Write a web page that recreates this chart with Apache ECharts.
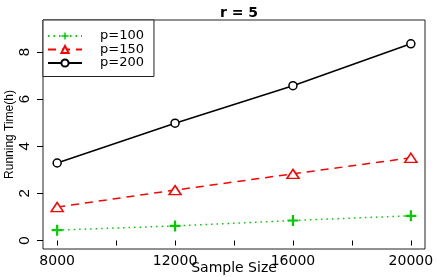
<!DOCTYPE html>
<html><head><meta charset="utf-8">
<script src="https://cdn.jsdelivr.net/npm/echarts@6/dist/echarts.min.js"></script>
<style>html,body{margin:0;padding:0;background:#fff}#c{width:436px;height:277px}</style>
</head><body><div id="c"></div>
<script>
const sampleSizes = [8000, 12000, 16000, 20000];
const p100 = [0.44, 0.62, 0.85, 1.05];
const p150 = [1.42, 2.14, 2.83, 3.51];
const p200 = [3.29, 4.98, 6.57, 8.35];
const xTicks = [8000, 10000, 12000, 14000, 16000, 18000, 20000];
const xLabels = [8000, 12000, 16000, 20000];
const yTicks = [0, 2, 4, 6, 8];
const seriesNames = ['p=100', 'p=150', 'p=200'];

const plus = 'path://M4,0 L6,0 L6,4 L10,4 L10,6 L6,6 L6,10 L4,10 L4,6 L0,6 L0,4 L4,4 Z';
const pair = v => sampleSizes.map((x, i) => [x, v[i]]);

const chart = echarts.init(document.getElementById('c'));
chart.setOption({
  animation: false,
  title: { text: 'r = 5', left: 234, textAlign: 'center', top: 1,
    textStyle: { fontFamily: 'DejaVu Sans', fontWeight: 'bold', fontSize: 14, color: '#000' } },
  grid: { left: 43, top: 20, right: 11, bottom: 28, show: true, borderColor: '#222', borderWidth: 1,
    outerBoundsMode: 'none', containLabel: false },
  legend: {
    orient: 'vertical', left: 43, top: 20, itemWidth: 34, itemHeight: 9, itemGap: 0.5,
    padding: [9.5, 10, 7, 4], borderColor: '#222', borderWidth: 1, backgroundColor: '#fff',
    textStyle: { fontFamily: 'DejaVu Sans', fontSize: 13, lineHeight: 13, color: '#000', padding: [0, 0, 0, 13] },
    data: seriesNames
  },
  xAxis: {
    type: 'value', min: 7520, max: 20480,
    name: 'Sample Size', nameLocation: 'middle', nameGap: 12, nameMoveOverlap: false,
    nameTextStyle: { fontFamily: 'DejaVu Sans', fontSize: 14, color: '#000', verticalAlign: 'top' },
    axisLine: { show: false }, splitLine: { show: false },
    axisTick: { show: true, length: 5, lineStyle: { color: '#000' }, customValues: xTicks },
    axisLabel: { customValues: xLabels, formatter: v => String(v), fontFamily: 'DejaVu Sans', fontSize: 14, color: '#000', margin: 5 }
  },
  yAxis: {
    type: 'value', min: -0.36, max: 9.36,
    name: 'Running Time(h)', nameLocation: 'middle', nameGap: 27, nameRotate: 90, nameMoveOverlap: false,
    nameTextStyle: { fontFamily: 'Liberation Sans', fontSize: 12, color: '#000' },
    axisLine: { show: false }, splitLine: { show: false },
    axisTick: { show: true, length: 6, lineStyle: { color: '#000' }, customValues: yTicks },
    axisLabel: { customValues: yTicks, formatter: v => String(v), rotate: 90, fontFamily: 'Liberation Sans', fontSize: 15, color: '#000', margin: 11 }
  },
  series: [
    { name: 'p=100', type: 'line', data: pair(p100), symbol: plus, symbolSize: 11,
      color: '#00cc00', lineStyle: { color: '#00cc00', width: 1.5, type: [1.5, 4] },
      itemStyle: { color: '#00cc00' } },
    { name: 'p=150', type: 'line', data: pair(p150), symbol: 'triangle', symbolSize: [12, 9],
      color: '#ff0000', lineStyle: { color: '#ff0000', width: 1.5, type: [8, 6] },
      itemStyle: { color: '#fff', borderColor: '#ff0000', borderWidth: 1.5 } },
    { name: 'p=200', type: 'line', data: pair(p200), symbol: 'circle', symbolSize: 8,
      color: '#000', lineStyle: { color: '#000', width: 1.5 },
      itemStyle: { color: '#fff', borderColor: '#000', borderWidth: 1.5 } }
  ]
});
</script></body></html>
